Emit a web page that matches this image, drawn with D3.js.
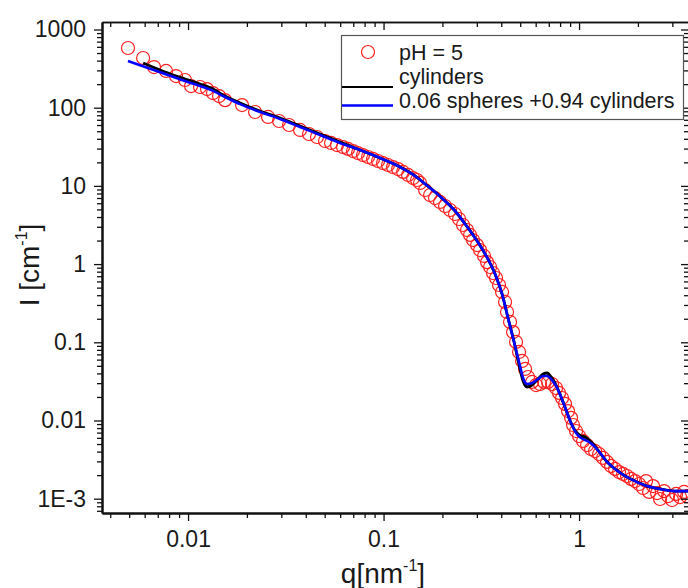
<!DOCTYPE html>
<html><head><meta charset="utf-8">
<script src="https://cdn.jsdelivr.net/npm/d3@7"></script>
<style>
body{margin:0;background:#fff}
svg{display:block}
text{font-family:"Liberation Sans",Arial,Helvetica,sans-serif;fill:#1a1a1a}
</style>
</head><body>
<svg id="chart" width="688" height="588"></svg>
<script>
// ---- data ----
const dataQ = [0.00493,0.00589,0.00670,0.00772,0.00868,0.00965,0.01036,0.01152,0.01251,0.01342,0.01441,0.01546,
  0.01889,0.02202,0.02566,0.02921,0.03286,0.03741,0.04158,0.04568,0.05021,0.05389,0.05783,0.06207,0.06584,
  0.06982,0.07405,0.07855,0.0833,0.08837,0.09374,0.0994,0.1054,0.1118,0.1187,0.1259,0.1335,0.1416,0.1484,
  0.1537,0.1631,0.1730,0.1834,0.1945,0.2064,0.2189,0.2321,0.2433,0.2550,0.2673,0.2770,0.2870,0.3008,0.3116,
  0.3267,0.3384,0.3506,0.3632,0.3762,0.3897,0.4037,0.4183,0.4282,0.4437,0.4596,0.4761,0.4933,0.5110,0.5294,
  0.5484,0.5749,0.6026,0.6317,0.6622,0.6941,0.7276,0.7627,0.7901,0.8185,0.8479,0.8783,0.9100,0.9318,0.9654,
  1.000,1.048,1.099,1.152,1.207,1.266,1.327,1.391,1.458,1.528,1.602,1.679,1.760,1.845,1.934,2.027,2.125,
  2.201,2.281,2.391,2.506,2.596,2.722,2.853,2.991,3.135,3.286,3.444,3.568];
const dataI = [580,432,331,295,254,226,189,184,173,154,141,125,
  108,88.1,76.1,67.6,60.1,51.9,46.1,42.2,37.5,35.4,33.3,31.4,29.7,
  27.9,26.3,24.8,23.4,22.1,20.8,19.6,18.5,17.4,16.4,15.1,13.8,12.6,11.9,
  10.9,8.86,7.65,7.00,6.23,5.53,4.92,4.37,3.77,3.16,2.73,2.36,2.03,1.75,1.51,
  1.27,1.06,0.918,0.769,0.664,0.540,0.440,0.328,0.244,0.182,0.135,0.101,0.0752,0.0577,0.0456,
  0.0360,0.0311,0.0284,0.0293,0.0311,0.0311,0.0293,0.0260,0.0225,0.0194,0.0163,0.0132,0.0108,0.00876,0.00734,
  0.00633,0.00547,0.00486,0.00432,0.00407,0.00373,0.00332,0.00295,0.00262,0.00240,0.00219,0.00207,0.00195,0.00179,0.00168,0.00154,0.00137,
  0.00168,0.00122,0.00145,0.00118,0.000991,0.00125,0.00108,0.000962,0.00115,0.00105,0.00122,0.00108];

const cylQ = [0.00589,0.00763,0.00965,0.01152,0.01342,0.01546,0.01845,0.02335,0.02955,0.03741,0.04733,0.05991,
  0.07582,0.09596,0.1215,0.1449,0.1631,0.1834,0.2064,0.2321,0.2612,0.2938,0.3305,0.3718,0.4037,0.4333,0.4651,
  0.4933,0.5172,0.5420,0.5749,0.6170,0.6545,0.6860,0.7191,0.7627,0.8091,0.8580,0.9100,0.9654,1.024,1.073,1.125,
  1.193,1.281,1.391,1.528,1.719,1.934,2.227,2.596,3.097,3.609];
const cylI = [373,286,233,201,173,141,115,90.7,73.8,58.3,46.1,36.4,
  28.8,22.7,17.4,13.4,10.6,8.36,6.41,4.78,3.26,2.16,1.35,0.747,0.415,0.204,0.101,
  0.0513,0.0320,0.0268,0.0284,0.0339,0.0393,0.0405,0.0360,0.0284,0.0200,0.0136,0.00929,0.00713,0.00633,0.00615,0.00563,
  0.00486,0.00384,0.00295,0.00240,0.00195,0.00168,0.00145,0.00133,0.00125,0.00125];

const mixQ = [0.00493,0.00603,0.00763,0.00965,0.01152,0.01342,0.01546,0.01845,0.02335,0.02955,0.03741,0.04733,0.05991,
  0.07582,0.09596,0.1215,0.1449,0.1631,0.1834,0.2064,0.2321,0.2612,0.2938,0.3305,0.3718,0.4037,0.4333,0.4651,
  0.4933,0.5172,0.5420,0.5749,0.6170,0.6545,0.6860,0.7191,0.7627,0.8091,0.8580,0.9100,0.9654,1.024,1.073,1.125,
  1.193,1.281,1.391,1.528,1.719,1.934,2.227,2.596,3.097,3.609];
const mixI = [396,331,270,219,189,164,137,111,88.1,71.7,56.6,44.8,35.4,
  28.8,22.7,17.4,13.4,10.6,8.36,6.41,4.78,3.26,2.16,1.35,0.747,0.415,0.204,0.101,
  0.0560,0.0350,0.0293,0.0302,0.0339,0.0371,0.0371,0.0339,0.0276,0.0200,0.0136,0.00929,0.00692,0.00597,0.00563,0.00531,
  0.00472,0.00384,0.00295,0.00240,0.00195,0.00168,0.00145,0.00133,0.00125,0.00125];

const xDomain = [0.00363, 3.65];
const yDomain = [0.000656, 1247];
const xMajorTicks = [0.01, 0.1, 1];
const xTickLabels = ["0.01", "0.1", "1"];
const yMajorTicks = [0.001, 0.01, 0.1, 1, 10, 100, 1000];
const yTickLabels = ["1E-3", "0.01", "0.1", "1", "10", "100", "1000"];
const legendLabels = ["pH = 5", "cylinders", "0.06 spheres +0.94 cylinders"];
const seriesColors = {data: "#ff2020", cyl: "#000000", mix: "#0000ff"};

// ---- layout ----
const L = 102, R = 689, T = 22, B = 513;
const svg = d3.select("#chart");
const x = d3.scaleLog().domain(xDomain).range([L, R]);
const y = d3.scaleLog().domain(yDomain).range([B, T]);

function minors(domain) {
  const out = [];
  const k0 = Math.floor(Math.log10(domain[0])), k1 = Math.ceil(Math.log10(domain[1]));
  for (let k = k0; k <= k1; k++) for (let m = 2; m <= 9; m++) {
    const v = m * Math.pow(10, k);
    if (v >= domain[0] && v <= domain[1]) out.push(v);
  }
  return out;
}
const xMinor = minors(xDomain), yMinor = minors(yDomain);

// plot clip
svg.append("clipPath").attr("id", "clip").append("rect")
  .attr("x", L).attr("y", T).attr("width", R - L).attr("height", B - T);

// data circles
svg.append("g").attr("clip-path", "url(#clip)")
  .selectAll("circle").data(dataQ.map((q, i) => [q, dataI[i]])).join("circle")
  .attr("cx", d => x(d[0])).attr("cy", d => y(d[1])).attr("r", 6.5)
  .attr("fill", "none").attr("stroke", seriesColors.data).attr("stroke-width", 1.2);

const line = d3.line().x(d => x(d[0])).y(d => y(d[1])).curve(d3.curveMonotoneX);
svg.append("path").datum(cylQ.map((q, i) => [q, cylI[i]]))
  .attr("d", line).attr("fill", "none").attr("stroke", seriesColors.cyl).attr("stroke-width", 2.8);
svg.append("path").datum(mixQ.map((q, i) => [q, mixI[i]]))
  .attr("d", line).attr("fill", "none").attr("stroke", seriesColors.mix).attr("stroke-width", 2.6);

// axes
function styleAxis(g, w) {
  g.select(".domain").attr("stroke", "#111").attr("stroke-width", w);
  g.selectAll(".tick line").attr("stroke", "#111").attr("stroke-width", 1.3);
}
const fmtX = v => xTickLabels[xMajorTicks.indexOf(v)];
const fmtY = v => yTickLabels[yMajorTicks.indexOf(v)];

// bottom
let g = svg.append("g").attr("transform", `translate(0,${B})`)
  .call(d3.axisBottom(x).tickValues(xMinor).tickSize(5).tickSizeOuter(0).tickFormat(""));
styleAxis(g, 2);
g = svg.append("g").attr("transform", `translate(0,${B})`)
  .call(d3.axisBottom(x).tickValues(xMajorTicks).tickSize(8).tickSizeOuter(0).tickPadding(10).tickFormat(fmtX));
styleAxis(g, 2);
g.selectAll("text").attr("font-size", 23).attr("fill", "#1a1a1a");
// top
g = svg.append("g").attr("transform", `translate(0,${T})`)
  .call(d3.axisTop(x).tickValues(xMinor).tickSize(-5).tickSizeOuter(0).tickFormat(""));
styleAxis(g, 1.6);
g = svg.append("g").attr("transform", `translate(0,${T})`)
  .call(d3.axisTop(x).tickValues(xMajorTicks).tickSize(-8).tickSizeOuter(0).tickFormat(""));
styleAxis(g, 1.6);
// left
g = svg.append("g").attr("transform", `translate(${L},0)`)
  .call(d3.axisLeft(y).tickValues(yMinor).tickSize(5).tickSizeOuter(0).tickFormat(""));
styleAxis(g, 2);
g = svg.append("g").attr("transform", `translate(${L},0)`)
  .call(d3.axisLeft(y).tickValues(yMajorTicks).tickSize(8).tickSizeOuter(0).tickPadding(8).tickFormat(fmtY));
styleAxis(g, 2);
g.selectAll("text").attr("font-size", 23).attr("fill", "#1a1a1a");
// right
g = svg.append("g").attr("transform", `translate(${R},0)`)
  .call(d3.axisRight(y).tickValues(yMinor).tickSize(-5).tickSizeOuter(0).tickFormat(""));
styleAxis(g, 1.6);
g = svg.append("g").attr("transform", `translate(${R},0)`)
  .call(d3.axisRight(y).tickValues(yMajorTicks).tickSize(-8).tickSizeOuter(0).tickFormat(""));
styleAxis(g, 1.6);

// axis titles
const xt = svg.append("text").attr("x", 383).attr("y", 583).attr("text-anchor", "middle").attr("font-size", 28);
xt.append("tspan").text("q[nm");
xt.append("tspan").attr("font-size", 16).attr("dy", -12).text("-1");
xt.append("tspan").attr("dy", 12).text("]");

const yt = svg.append("text").attr("transform", "translate(39,265) rotate(-90)")
  .attr("text-anchor", "middle").attr("font-size", 28);
yt.append("tspan").text("I [cm");
yt.append("tspan").attr("font-size", 16).attr("dy", -12).text("-1");
yt.append("tspan").attr("dy", 12).text("]");

// legend
const lg = svg.append("g");
lg.append("rect").attr("x", 341.5).attr("y", 35.5).attr("width", 342).attr("height", 84)
  .attr("fill", "#fff").attr("stroke", "#555").attr("stroke-width", 1.2);
lg.append("circle").attr("cx", 368).attr("cy", 52).attr("r", 6.5)
  .attr("fill", "none").attr("stroke", seriesColors.data).attr("stroke-width", 1.2);
lg.append("line").attr("x1", 342).attr("x2", 393).attr("y1", 87).attr("y2", 87)
  .attr("stroke", seriesColors.cyl).attr("stroke-width", 2.2);
lg.append("line").attr("x1", 342).attr("x2", 393).attr("y1", 105.5).attr("y2", 105.5)
  .attr("stroke", seriesColors.mix).attr("stroke-width", 2.4);
const lyPos = [60, 84, 108];
legendLabels.forEach((t, i) => {
  lg.append("text").attr("x", 399).attr("y", lyPos[i]).attr("font-size", 21.5).text(t);
});
</script>
</body></html>
